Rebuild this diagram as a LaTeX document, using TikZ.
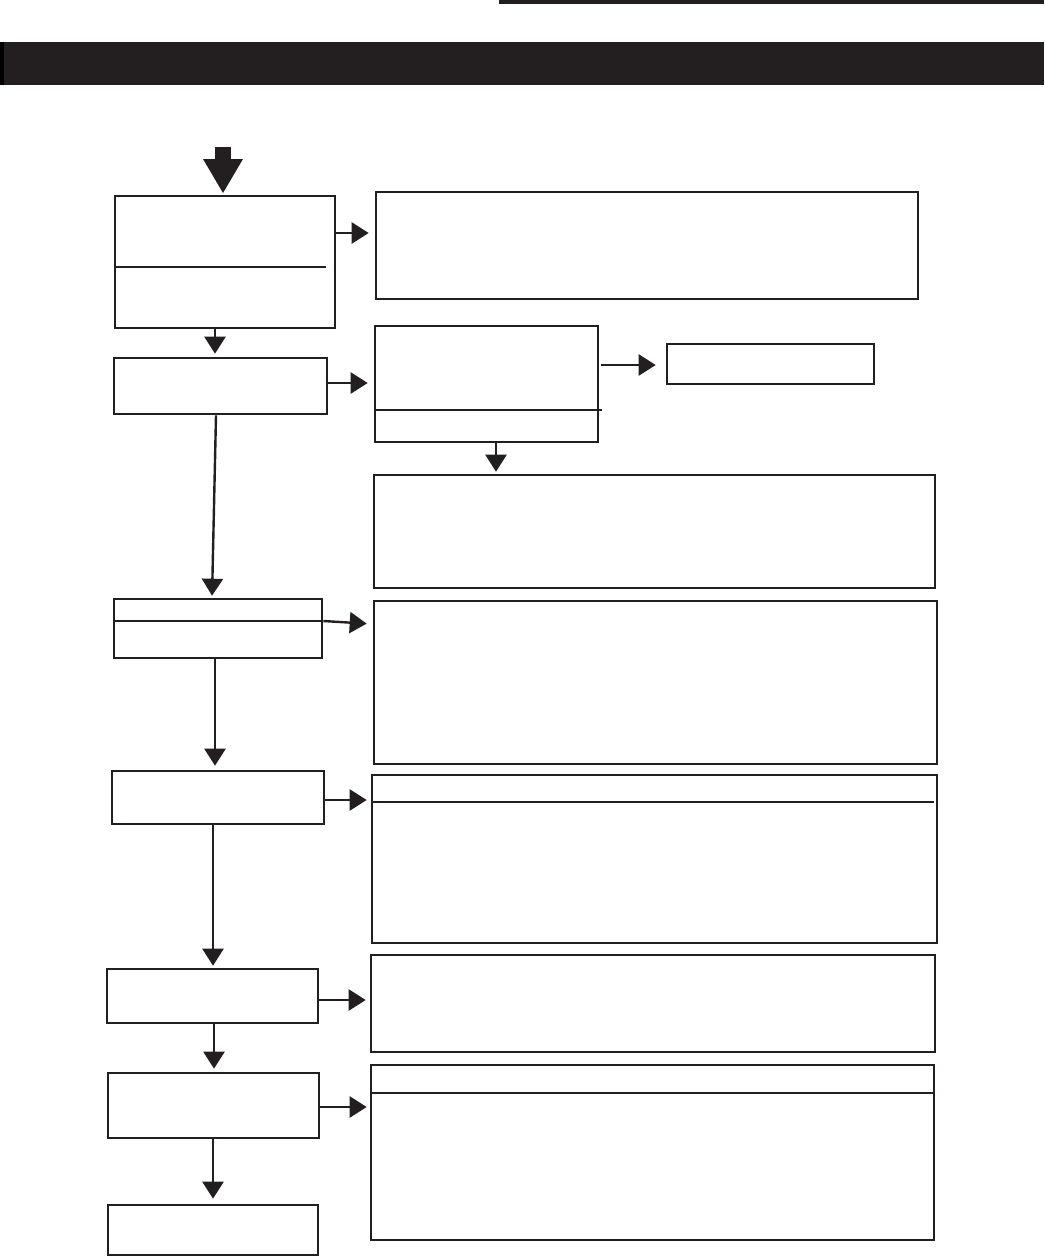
\documentclass[tikz,border=0pt]{standalone}
\usetikzlibrary{arrows.meta}
\definecolor{ink}{HTML}{231F20}
\begin{document}
\begin{tikzpicture}[x=1pt,y=-1pt,
  box/.style={draw=ink,line width=2.6pt,rectangle,inner sep=0pt,fill=none},
  arr/.style={draw=ink,line width=2.4pt,-{Triangle[length=17pt,width=21pt]}},
  divider/.style={draw=ink,line width=2.6pt}]
\useasboundingbox (0,0) rectangle (1044,1258);
% top bars
\fill[ink] (499,0) rectangle (1044,4);
\fill[ink] (0,42) rectangle (1044,85);
\fill[black] (0,42) rectangle (4,85);
% big entry arrow
\fill[ink] (215,147) rectangle (231,162);
\fill[ink] (203,159) -- (243,159) -- (223,193) -- cycle;
% boxes
\node[box,minimum width=220pt,minimum height=132pt] (A) at (225,262) {};
\node[box,minimum width=542pt,minimum height=107pt] (B) at (647,245.5) {};
\node[box,minimum width=213pt,minimum height=56pt] (C) at (220.5,386) {};
\node[box,minimum width=223pt,minimum height=116pt] (D) at (486.5,384) {};
\node[box,minimum width=207pt,minimum height=40pt] (E) at (770.5,364) {};
\node[box,minimum width=561pt,minimum height=113pt] (F) at (654.5,531.5) {};
\node[box,minimum width=208pt,minimum height=59pt] (G) at (218,628.5) {};
\node[box,minimum width=563pt,minimum height=163pt] (H) at (655.5,682.5) {};
\node[box,minimum width=212pt,minimum height=53pt] (I) at (218,797.5) {};
\node[box,minimum width=565pt,minimum height=168pt] (J) at (654.5,859) {};
\node[box,minimum width=211pt,minimum height=54pt] (K) at (212.5,996) {};
\node[box,minimum width=564pt,minimum height=97pt] (L) at (653,1003.5) {};
\node[box,minimum width=211pt,minimum height=65pt] (M) at (213.5,1105.5) {};
\node[box,minimum width=563pt,minimum height=175pt] (N) at (652.5,1152.5) {};
\node[box,minimum width=210pt,minimum height=50pt] (O) at (213,1230) {};
% dividers
\draw[divider] (A.west |- 0,267) -- (326,267);
\draw[divider] (D.west |- 0,410) -- (602,410);
\draw[divider] (G.west |- 0,621) -- (G.east |- 0,621);
\draw[divider] (J.west |- 0,802) -- (934,802);
\draw[divider] (N.west |- 0,1093) -- (N.east |- 0,1093);
% connectors
\draw[arr,shorten >=6pt] (A.east |- 0,233) -- (B.west |- 0,233);
\draw[arr,shorten >=3pt] (A.south -| 215,0) -- (C.north -| 215,0);
\draw[arr,shorten >=6pt] (C.east |- 0,383) -- (D.west |- 0,383);
\draw[arr,shorten <=2pt,shorten >=10pt] (D.east |- 0,365) -- (E.west |- 0,365);
\draw[arr,shorten >=2pt] (D.south -| 496,0) -- (F.north -| 496,0);
\draw[arr,shorten >=2pt] (C.south -| 216,0) -- (G.north -| 212,0);
\draw[arr,shorten >=6pt] (G.east |- 0,621) -- (H.west |- 0,624);
\draw[arr,shorten >=4pt] (G.south -| 215,0) -- (I.north -| 215,0);
\draw[arr,shorten >=4pt] (I.east |- 0,800) -- (J.west |- 0,800);
\draw[arr,shorten >=2pt] (I.south -| 213,0) -- (K.north -| 213,0);
\draw[arr,shorten >=4pt] (K.east |- 0,1000) -- (L.west |- 0,1000);
\draw[arr,shorten >=3pt] (K.south -| 214,0) -- (M.north -| 214,0);
\draw[arr,shorten >=3pt] (M.east |- 0,1107) -- (N.west |- 0,1107);
\draw[arr,shorten >=5pt] (M.south -| 213,0) -- (O.north -| 213,0);
\end{tikzpicture}
\end{document}
